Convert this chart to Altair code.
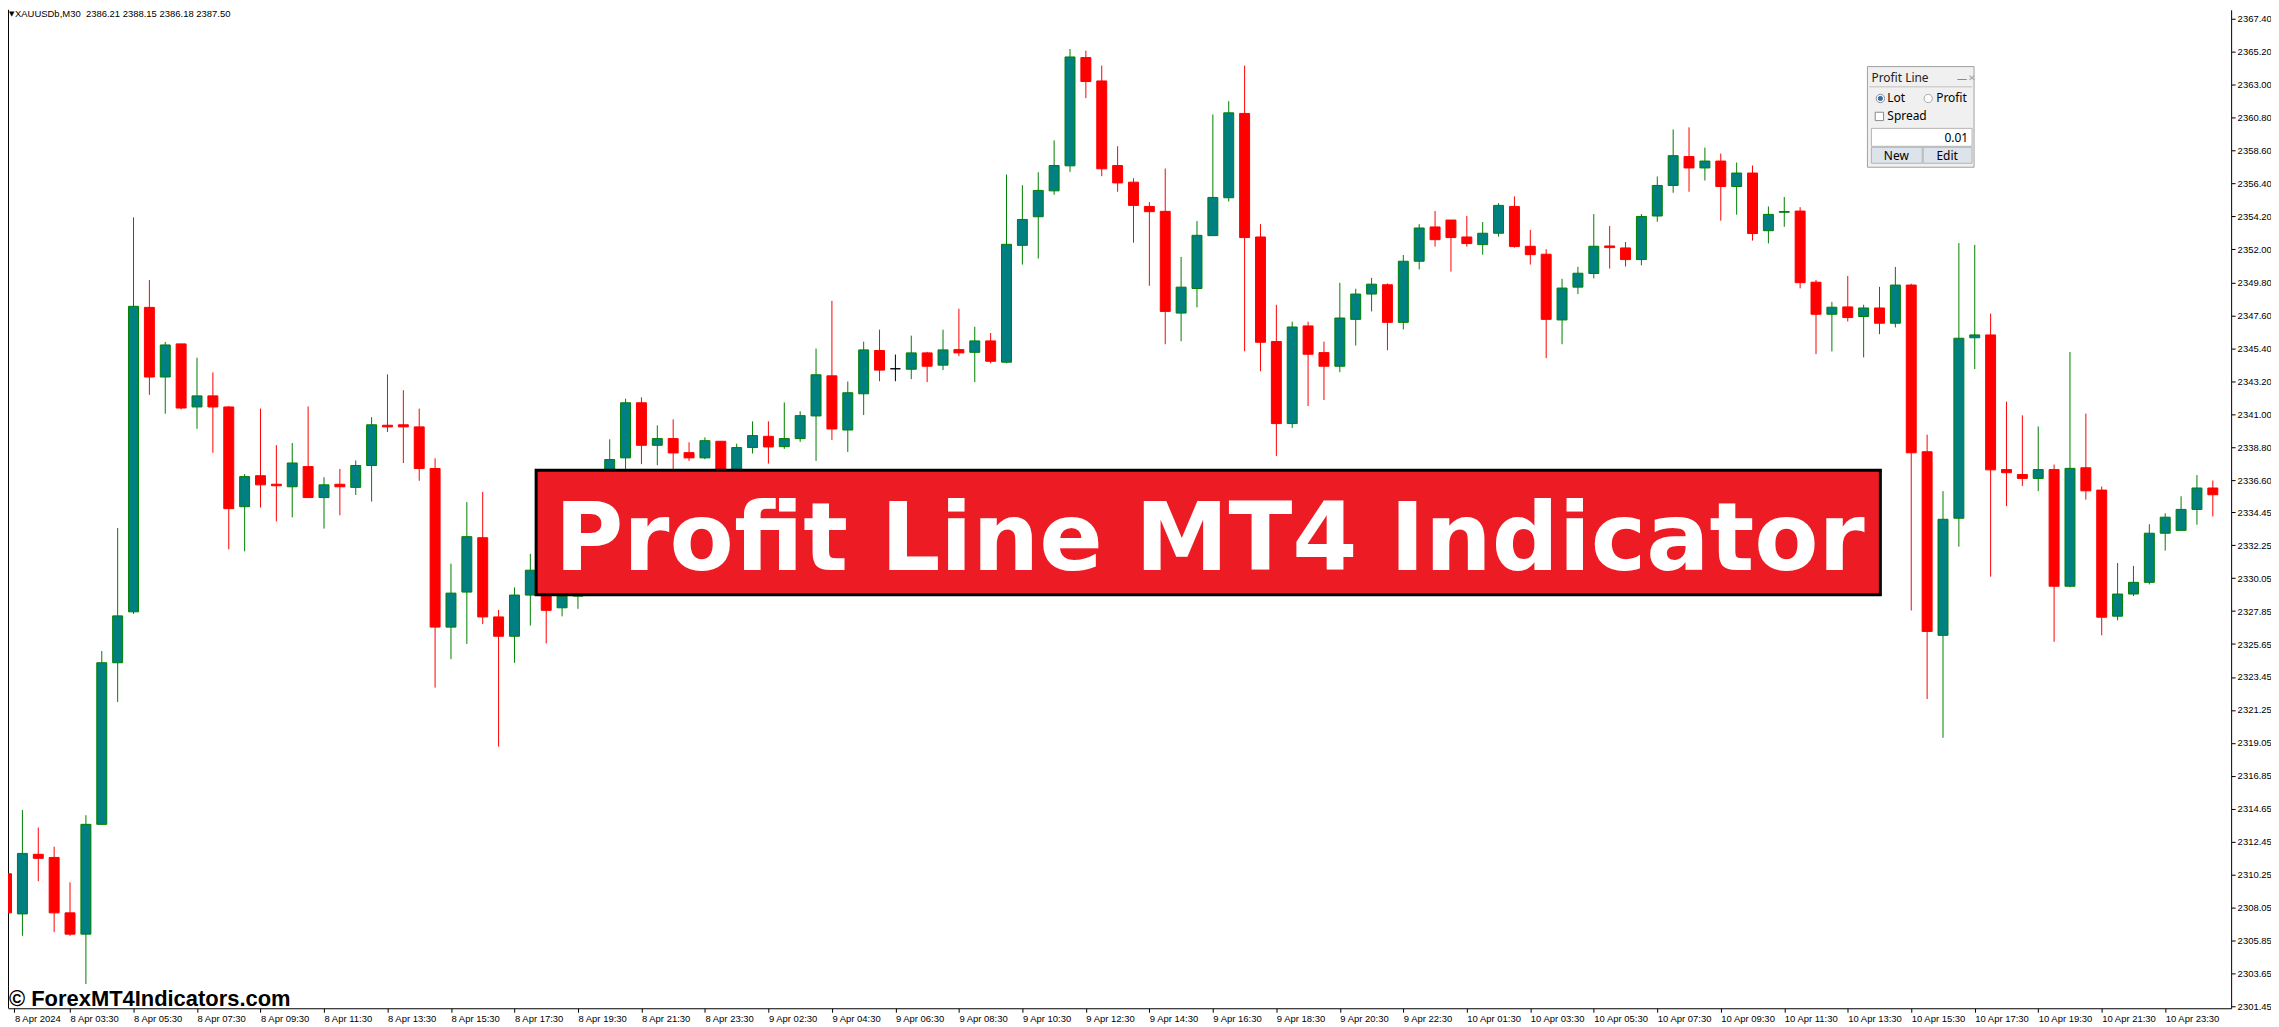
import altair as alt
import pandas as pd
import numpy as np

# ---------------- data (M30 candles) ----------------
opens = [2310.31, 2307.63, 2311.61, 2311.40, 2307.70, 2306.28, 2313.61, 2324.40, 2327.80, 2348.13,
         2343.48, 2345.69, 2341.48, 2342.22, 2341.48, 2334.82, 2336.89, 2336.32, 2336.15, 2337.50,
         2335.43, 2336.32, 2336.11, 2337.57, 2340.26, 2340.29, 2340.15, 2337.37, 2326.78, 2329.12,
         2332.75, 2327.46, 2326.17, 2328.92, 2330.40, 2328.07, 2328.85, 2332.50, 2335.80, 2338.08,
         2341.76, 2338.92, 2339.37, 2338.43, 2338.08, 2339.19, 2336.90, 2338.77, 2339.52, 2338.83,
         2339.37, 2340.88, 2343.56, 2339.94, 2342.36, 2345.25, 2344.03, 2344.00, 2345.09, 2344.27,
         2345.31, 2345.13, 2345.89, 2344.47, 2352.27, 2354.18, 2355.91, 2357.58, 2364.81, 2363.25,
         2357.60, 2356.49, 2354.87, 2354.54, 2347.75, 2349.39, 2352.92, 2355.45, 2361.08, 2352.83,
         2345.85, 2340.37, 2346.89, 2345.11, 2344.20, 2347.33, 2349.02, 2349.64, 2347.13, 2351.21,
         2353.50, 2353.96, 2352.83, 2352.32, 2353.08, 2354.87, 2352.21, 2351.68, 2347.29, 2349.48,
         2350.39, 2352.23, 2352.10, 2351.32, 2354.23, 2356.27, 2358.20, 2357.44, 2357.90, 2356.20,
         2357.10, 2353.25, 2354.48, 2354.56, 2349.81, 2347.67, 2348.16, 2347.52, 2348.09, 2347.07,
         2349.62, 2338.49, 2326.23, 2334.05, 2346.10, 2346.29, 2337.30, 2336.97, 2336.71, 2337.30,
         2329.51, 2337.42, 2335.93, 2327.51, 2328.99, 2329.77, 2333.05, 2333.24, 2334.64, 2336.07]
highs = [2311.95, 2314.56, 2313.40, 2312.12, 2309.74, 2314.22, 2325.18, 2333.40, 2354.14, 2349.96,
         2345.82, 2345.69, 2344.77, 2343.79, 2341.54, 2337.00, 2341.37, 2338.93, 2339.07, 2341.51,
         2336.79, 2337.34, 2337.91, 2340.80, 2343.65, 2342.60, 2341.37, 2338.05, 2331.02, 2335.13,
         2335.81, 2327.93, 2329.43, 2331.67, 2331.20, 2329.50, 2333.80, 2336.90, 2339.32, 2342.03,
         2342.12, 2340.25, 2340.65, 2339.12, 2339.45, 2339.19, 2339.03, 2340.52, 2340.52, 2341.78,
         2341.19, 2345.38, 2348.57, 2343.18, 2345.84, 2346.64, 2344.98, 2346.24, 2345.16, 2346.64,
         2348.04, 2346.84, 2346.42, 2357.00, 2356.29, 2357.15, 2359.28, 2365.38, 2365.27, 2364.27,
         2358.89, 2356.75, 2355.16, 2357.40, 2351.50, 2353.89, 2361.01, 2361.90, 2364.27, 2353.69,
         2348.30, 2347.17, 2347.17, 2345.84, 2349.77, 2349.37, 2350.10, 2349.73, 2351.63, 2353.69,
         2354.56, 2353.96, 2354.23, 2353.83, 2355.09, 2355.54, 2353.30, 2352.01, 2350.04, 2350.84,
         2354.36, 2353.56, 2352.50, 2354.36, 2356.87, 2360.01, 2360.15, 2358.80, 2358.40, 2357.80,
         2357.60, 2354.87, 2355.50, 2354.82, 2349.97, 2348.50, 2350.23, 2348.31, 2349.50, 2350.83,
         2349.71, 2339.63, 2335.86, 2352.42, 2352.30, 2347.71, 2341.84, 2340.92, 2340.18, 2337.64,
         2345.15, 2341.04, 2336.17, 2331.06, 2330.87, 2333.65, 2334.38, 2335.52, 2336.93, 2336.57]
lows = [2306.28, 2306.17, 2309.81, 2306.41, 2306.17, 2302.95, 2313.61, 2321.79, 2327.66, 2342.29,
        2341.03, 2341.31, 2340.02, 2338.42, 2331.97, 2331.84, 2334.76, 2333.84, 2334.11, 2335.43,
        2333.36, 2334.25, 2335.60, 2335.16, 2339.81, 2337.74, 2336.55, 2322.74, 2324.64, 2325.66,
        2326.98, 2318.80, 2324.40, 2326.88, 2325.69, 2327.50, 2328.00, 2331.60, 2335.20, 2337.00,
        2337.66, 2337.59, 2336.90, 2337.88, 2337.99, 2336.00, 2336.30, 2338.37, 2337.70, 2338.68,
        2339.15, 2337.88, 2339.28, 2338.48, 2340.94, 2343.20, 2343.20, 2343.34, 2343.14, 2343.94,
        2344.87, 2343.14, 2344.40, 2344.40, 2350.99, 2351.39, 2355.65, 2357.18, 2362.10, 2356.89,
        2355.85, 2352.45, 2349.57, 2345.67, 2345.87, 2348.13, 2352.92, 2355.20, 2345.20, 2343.87,
        2338.21, 2340.08, 2341.54, 2341.94, 2343.80, 2345.58, 2347.86, 2345.27, 2346.66, 2350.66,
        2352.19, 2350.52, 2352.19, 2351.65, 2352.85, 2352.12, 2350.99, 2344.74, 2345.67, 2349.02,
        2350.06, 2350.72, 2350.86, 2350.94, 2353.85, 2355.78, 2355.85, 2356.60, 2353.92, 2354.32,
        2352.59, 2352.40, 2353.51, 2349.40, 2345.01, 2345.19, 2347.19, 2344.79, 2346.34, 2346.79,
        2327.89, 2321.98, 2319.39, 2332.15, 2344.01, 2330.15, 2334.86, 2336.21, 2335.86, 2325.80,
        2329.44, 2335.29, 2326.23, 2327.23, 2328.85, 2329.63, 2331.89, 2333.24, 2333.62, 2334.17]
closes = [2307.70, 2311.67, 2311.34, 2307.70, 2306.28, 2313.61, 2324.40, 2327.53, 2348.20, 2343.48,
          2345.62, 2341.41, 2342.22, 2341.48, 2334.69, 2336.83, 2336.28, 2336.22, 2337.74, 2335.43,
          2336.28, 2336.15, 2337.57, 2340.29, 2340.15, 2340.15, 2337.37, 2326.78, 2329.05, 2332.82,
          2327.46, 2326.17, 2328.92, 2330.58, 2327.90, 2328.85, 2332.50, 2335.80, 2337.97, 2341.76,
          2338.92, 2339.37, 2338.41, 2338.08, 2339.23, 2336.90, 2338.77, 2339.57, 2338.81, 2339.37,
          2340.90, 2343.63, 2340.01, 2342.43, 2345.29, 2343.94, 2344.03, 2345.09, 2344.20, 2345.29,
          2345.09, 2345.89, 2344.53, 2352.34, 2354.00, 2355.94, 2357.60, 2364.85, 2363.21, 2357.38,
          2356.44, 2354.94, 2354.52, 2347.86, 2349.48, 2352.94, 2355.47, 2361.12, 2352.79, 2345.80,
          2340.37, 2346.82, 2345.00, 2344.20, 2347.42, 2349.02, 2349.68, 2347.13, 2351.21, 2353.43,
          2352.65, 2352.79, 2352.39, 2353.08, 2354.94, 2352.19, 2351.65, 2347.33, 2349.42, 2350.41,
          2352.21, 2352.12, 2351.32, 2354.20, 2356.27, 2358.26, 2357.44, 2357.90, 2356.20, 2357.10,
          2353.06, 2354.34, 2354.53, 2349.78, 2347.67, 2348.14, 2347.45, 2348.09, 2347.07, 2349.62,
          2338.42, 2326.49, 2333.98, 2346.07, 2346.29, 2337.28, 2337.09, 2336.71, 2337.30, 2329.51,
          2337.38, 2335.88, 2327.44, 2328.99, 2329.77, 2333.05, 2334.12, 2334.64, 2336.07, 2335.62]

x_labels = ["8 Apr 2024", "8 Apr 03:30", "8 Apr 05:30", "8 Apr 07:30", "8 Apr 09:30", "8 Apr 11:30",
            "8 Apr 13:30", "8 Apr 15:30", "8 Apr 17:30", "8 Apr 19:30", "8 Apr 21:30", "8 Apr 23:30",
            "9 Apr 02:30", "9 Apr 04:30", "9 Apr 06:30", "9 Apr 08:30", "9 Apr 10:30", "9 Apr 12:30",
            "9 Apr 14:30", "9 Apr 16:30", "9 Apr 18:30", "9 Apr 20:30", "9 Apr 22:30",
            "10 Apr 01:30", "10 Apr 03:30", "10 Apr 05:30", "10 Apr 07:30", "10 Apr 09:30",
            "10 Apr 11:30", "10 Apr 13:30", "10 Apr 15:30", "10 Apr 17:30", "10 Apr 19:30",
            "10 Apr 21:30", "10 Apr 23:30"]
y_ticks = [2367.40, 2365.20, 2363.00, 2360.80, 2358.60, 2356.40, 2354.20, 2352.00, 2349.80, 2347.60,
           2345.40, 2343.20, 2341.00, 2338.80, 2336.60, 2334.45, 2332.25, 2330.05, 2327.85, 2325.65,
           2323.45, 2321.25, 2319.05, 2316.85, 2314.65, 2312.45, 2310.25, 2308.05, 2305.85, 2303.65,
           2301.45]

header_text = "XAUUSDb,M30 \u00a02386.21 2388.15 2386.18 2387.50"
banner_text = "Profit Line MT4 Indicator"
watermark = "\u00a9 ForexMT4Indicators.com"

# ---------------- table ----------------
n = len(opens)
df = pd.DataFrame({"i": np.arange(n), "open": opens, "high": highs, "low": lows, "close": closes})
df["dir"] = np.where(df["close"] > df["open"], "up", np.where(df["close"] < df["open"], "down", "flat"))

PLOT_W, PLOT_H = 2231, 1002
cy = PLOT_H / 1002.0

x_scale = alt.Scale(domain=[0.406, 139.84], nice=False, zero=False)
y_scale = alt.Scale(domain=[2301.33, 2368.00], nice=False, zero=False)

lab_expr = "[" + ",".join("'" + s + "'" for s in x_labels) + "][round(datum.value / 4)]"
x_axis = alt.Axis(values=[0.5] + [4 * k for k in range(1, len(x_labels))], labelExpr=lab_expr,
                  orient="bottom", grid=False, title=None, tickSize=4, tickColor="black",
                  domainColor="black", labelColor="black", labelFont="Liberation Sans",
                  labelFontSize=9.5, labelAlign="left", labelPadding=1,
                  labelOverlap=False, labelFlush=False, labelBound=False)
y_axis = alt.Axis(values=y_ticks, format=".2f", orient="right", grid=False, title=None,
                  tickSize=4, tickColor="black", domainColor="black", labelColor="black",
                  labelFont="Liberation Sans", labelFontSize=9.5, labelPadding=2,
                  labelOverlap=False, labelFlush=False, labelBound=False)

dir_dom = ["up", "down", "flat"]
wicks = alt.Chart(df).mark_rule(strokeWidth=1, clip=True).encode(
    x=alt.X("i:Q", scale=x_scale, axis=x_axis),
    y=alt.Y("low:Q", scale=y_scale, axis=y_axis),
    y2="high:Q",
    color=alt.Color("dir:N", scale=alt.Scale(domain=dir_dom, range=["#008000", "#FF0000", "#000000"]), legend=None),
)
bodies = alt.Chart(df).mark_bar(size=10, strokeWidth=1, clip=True).encode(
    x=alt.X("i:Q", scale=x_scale, axis=x_axis),
    y=alt.Y("open:Q", scale=y_scale, axis=y_axis),
    y2="close:Q",
    fill=alt.Fill("dir:N", scale=alt.Scale(domain=dir_dom, range=["#008080", "#FF0000", "#000000"]), legend=None),
    stroke=alt.Stroke("dir:N", scale=alt.Scale(domain=dir_dom, range=["#008000", "#FF0000", "#000000"]), legend=None),
)

one = pd.DataFrame({"k": [0]})


def py(ref_y):
    return (ref_y - 8) * cy


def box(x1, x2, y1, y2, fill, stroke, sw=1):
    return alt.Chart(one).mark_rect(fill=fill, stroke=stroke, strokeWidth=sw).encode(
        x=alt.value(x1 - 8), x2=alt.value(x2 - 8), y=alt.value(py(y1)), y2=alt.value(py(y2)))


def label(text, x, y, size, align="left", color="black", font="Noto Sans", weight="normal",
          baseline="middle"):
    return alt.Chart(one).mark_text(text=text, align=align, baseline=baseline, fontSize=size,
                                    font=font, fontWeight=weight, color=color).encode(
        x=alt.value(x - 8), y=alt.value(py(y)))


def dot(x, y, size, fill, stroke, shape="circle"):
    return alt.Chart(one).mark_point(shape=shape, filled=True, size=size, fill=fill, stroke=stroke,
                                     strokeWidth=1, opacity=1).encode(
        x=alt.value(x - 8), y=alt.value(py(y)))


left_border = alt.Chart(one).mark_rule(color="black", strokeWidth=1).encode(x=alt.value(0.5))

layers = [left_border, wicks, bodies]

# header and watermark
layers.append(alt.Chart(one).mark_text(text="\u25bc", align="left", baseline="middle", fontSize=7,
                                       font="DejaVu Sans", color="black").encode(
    x=alt.value(1), y=alt.value(4)))
layers.append(alt.Chart(one).mark_text(text=header_text, align="left", baseline="middle", fontSize=9.5,
                                       font="Liberation Sans", color="black").encode(
    x=alt.value(7), y=alt.value(4)))
layers.append(alt.Chart(one).mark_text(text=watermark, align="left", baseline="alphabetic", fontSize=22,
                                       font="Liberation Sans", fontWeight="bold", color="black").encode(
    x=alt.value(1), y=alt.value(PLOT_H - 2)))

# banner
layers.append(box(538, 1887, 470, 595, "#ED1C24", "black", 3))
layers.append(label(banner_text, 1214, 570, 94, align="center", color="white", font="DejaVu Sans",
                    weight="bold", baseline="alphabetic"))

# Profit Line panel
layers += [
    box(1874, 1981, 65, 166, "#F0F0F0", "#A0A0A0"),
    box(1876, 1979, 85, 85.5, "#D0D0D0", "#D0D0D0"),
    label("Profit Line", 1878, 76, 12, color="#222222"),
    label("\u2014", 1964, 77, 10, color="#8A8A8A"),
    label("\u2715", 1975, 76, 9, color="#9A9A9A", font="DejaVu Sans"),
    dot(1887, 97, 70, "#FFFFFF", "#8A8A8A"),
    dot(1887, 97, 18, "#2F6EA8", "#2F6EA8"),
    label("Lot", 1894, 97, 12),
    dot(1935, 97, 70, "#FFFFFF", "#A8A8A8"),
    label("Profit", 1943, 97, 12),
    dot(1886, 115, 70, "#FFFFFF", "#8A8A8A", shape="square"),
    label("Spread", 1894, 115, 12),
    box(1878, 1979, 127, 145, "#FFFFFF", "#B4B4B4"),
    label("0.01", 1975, 137, 12, align="right"),
    box(1878, 1929, 146, 162, "#DDE3EB", "#B4B4B4"),
    box(1930, 1979, 146, 162, "#DDE3EB", "#B4B4B4"),
    label("New", 1903, 155, 12, align="center"),
    label("Edit", 1954, 155, 12, align="center"),
]

chart = alt.layer(*layers).properties(
    width=PLOT_W, height=PLOT_H,
    autosize=alt.AutoSizeParams(type="none"),
    padding={"left": 0, "top": 0, "right": 40, "bottom": 16},
    background="white",
).configure_view(stroke=None)

chart.save("out.html", embed_options={"renderer": "svg", "actions": False})
